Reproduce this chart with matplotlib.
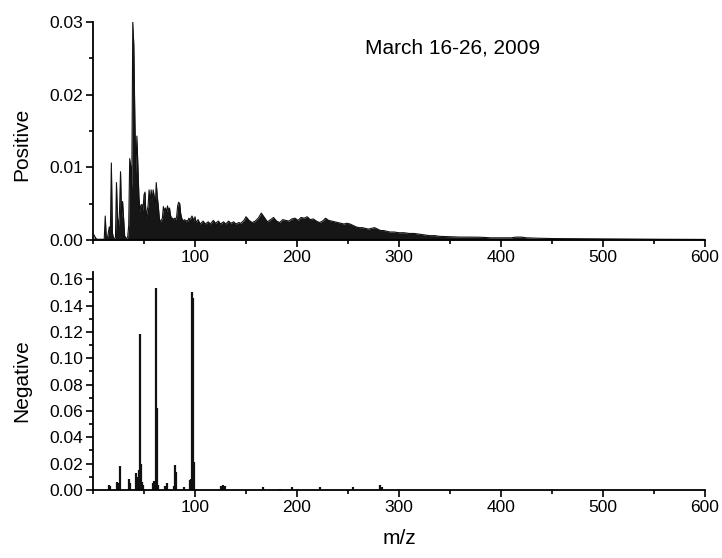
import matplotlib
matplotlib.use("Agg")
import matplotlib.pyplot as plt
from matplotlib.ticker import MultipleLocator, FixedLocator

plt.rcParams['font.family'] = ['Liberation Sans', 'DejaVu Sans']

# ---- Positive ion spectrum (m/z, intensity) ----
pos_mz = [1, 2, 3, 4, 6, 8, 10, 11, 12, 13, 14, 15, 16, 17, 18, 19, 20, 21, 22, 23, 24, 25,
          26, 27, 28, 29, 30, 31, 32, 33, 34, 35, 36, 37, 38, 39, 40, 41, 42, 43, 44, 45,
          46, 47, 48, 49, 50, 51, 52, 53, 54, 55, 56, 57, 58, 59, 60, 61, 62, 63, 64, 65,
          66, 67, 68, 69, 70, 71, 72, 73, 74, 75, 76, 77, 78, 79, 80, 81, 82, 83, 84, 85,
          86, 87, 88, 89, 90, 91, 92, 93, 94, 95, 96, 97, 98, 99, 100,
          101, 103, 105, 108, 110, 113, 115, 118, 120, 123, 125, 128, 130, 133, 135, 138,
          140, 143, 145, 148, 150, 153, 156, 159, 162, 165, 168, 171, 174, 177, 180, 183,
          186, 189, 192, 195, 198, 201, 204, 207, 210, 213, 216, 219, 222, 225, 228, 231,
          234, 237, 240, 243, 246, 249, 252, 255, 258, 261, 264, 267, 270, 273, 276, 279,
          282, 285, 288, 291, 295, 300, 305, 310, 315, 320, 325, 330, 335, 340, 350, 360,
          370, 380, 390, 400, 410, 415, 420, 425, 435, 450, 470, 500, 530, 560, 600]
pos_int = [0.0007, 0.0004, 0.0002, 0.0001, 0.0001, 0.0001, 0.0001, 0.0001, 0.0033, 0.0003,
           0.0002, 0.0010, 0.0018, 0.0008, 0.0106, 0.0010, 0.0003, 0.0002, 0.0003, 0.0079,
           0.0030, 0.0018, 0.0040, 0.0094, 0.0030, 0.0053, 0.0030, 0.0006, 0.0003, 0.0002,
           0.0004, 0.0020, 0.0112, 0.0101, 0.0070, 0.0300, 0.0268, 0.0170, 0.0090, 0.0143,
           0.0103, 0.0060, 0.0039, 0.0048, 0.0049, 0.0040, 0.0062, 0.0066, 0.0030, 0.0040,
           0.0047, 0.0069, 0.0052, 0.0069, 0.0055, 0.0069, 0.0060, 0.0045, 0.0079, 0.0060,
           0.0047, 0.0030, 0.0025, 0.0027, 0.0030, 0.0046, 0.0040, 0.0044, 0.0038, 0.0047,
           0.0040, 0.0044, 0.0034, 0.0030, 0.0030, 0.0028, 0.0030, 0.0028, 0.0032, 0.0047,
           0.0052, 0.0050, 0.0036, 0.0030, 0.0027, 0.0027, 0.0028, 0.0025, 0.0027, 0.0026,
           0.0030, 0.0028, 0.0030, 0.0033, 0.0030, 0.0026, 0.0032,
           0.0024, 0.0028, 0.0022, 0.0026, 0.0022, 0.0025, 0.0022, 0.0027, 0.0023, 0.0026,
           0.0022, 0.0025, 0.0022, 0.0026, 0.0023, 0.0025, 0.0022, 0.0024, 0.0023, 0.0027,
           0.0032, 0.0027, 0.0024, 0.0026, 0.0030, 0.0037, 0.0031, 0.0025, 0.0028, 0.0031,
           0.0026, 0.0024, 0.0028, 0.0027, 0.0026, 0.0029, 0.0030, 0.0027, 0.0031, 0.0030,
           0.0032, 0.0028, 0.0029, 0.0026, 0.0024, 0.0026, 0.0030, 0.0027, 0.0026, 0.0025,
           0.0024, 0.0023, 0.0022, 0.0023, 0.0022, 0.0020, 0.0018, 0.0017, 0.0017, 0.0016,
           0.0015, 0.0016, 0.0017, 0.0015, 0.0013, 0.0013, 0.0012, 0.0011, 0.0011, 0.0010,
           0.0010, 0.0009, 0.0009, 0.0008, 0.0007, 0.0006, 0.0006, 0.0005, 0.00045, 0.0004,
           0.0004, 0.00038, 0.0003, 0.0003, 0.0003, 0.0004, 0.0004, 0.0003, 0.00025, 0.0002,
           0.00018, 0.00015, 0.00012, 0.0001, 0.00008]

# ---- Negative ion spectrum (m/z, intensity) ----
neg_mz = [16, 17, 24, 25, 26, 35, 36, 42, 43, 45, 46, 47, 48, 49, 59, 60, 61, 62, 63, 64,
          71, 73, 79, 80, 81, 89, 95, 96, 97, 98, 99, 125, 127, 129, 167, 183, 195, 223,
          255, 281, 283]
neg_int = [0.004, 0.003, 0.006, 0.005, 0.018, 0.008, 0.005, 0.0127, 0.010, 0.015, 0.1185,
           0.020, 0.006, 0.004, 0.005, 0.007, 0.004, 0.153, 0.062, 0.004, 0.003, 0.0056,
           0.003, 0.019, 0.014, 0.002, 0.0076, 0.008, 0.150, 0.146, 0.021, 0.003, 0.004,
           0.003, 0.0025, 0.001, 0.0025, 0.002, 0.002, 0.0038, 0.0025]

x_ticks = [100, 200, 300, 400, 500, 600]
pos_yticks = [0.00, 0.01, 0.02, 0.03]
neg_yticks = [0.00, 0.02, 0.04, 0.06, 0.08, 0.10, 0.12, 0.14, 0.16]

W, H = 722, 558
fig = plt.figure(figsize=(W / 100, H / 100), dpi=100)
ax1 = fig.add_axes([93 / W, 1 - 240 / H, 612 / W, 218 / H])
ax2 = fig.add_axes([93 / W, 1 - 490 / H, 612 / W, 218 / H])

ink = '#111111'
ax1.fill_between(pos_mz, 0, pos_int, color='#161616', lw=0)
ax1.plot(pos_mz, pos_int, color=ink, lw=0.8)
ax2.vlines(neg_mz, 0, neg_int, color=ink, lw=1.6)

for ax, yt, ylim in [(ax1, pos_yticks, 0.03), (ax2, neg_yticks, 0.1655)]:
    ax.set_xlim(0, 600)
    ax.set_ylim(0, ylim)
    ax.xaxis.set_major_locator(FixedLocator(x_ticks))
    ax.xaxis.set_minor_locator(MultipleLocator(50))
    ax.set_yticks(yt)
    ax.set_yticklabels(['{:.2f}'.format(v) for v in yt])
    ax.yaxis.set_minor_locator(MultipleLocator((yt[1] - yt[0]) / 2))
    for s in ['top', 'right']:
        ax.spines[s].set_visible(False)
    for s in ['left', 'bottom']:
        ax.spines[s].set_linewidth(1.3)
    ax.tick_params(which='major', direction='out', length=5, width=1.2, labelsize=12.5, pad=2)
    ax.tick_params(which='minor', direction='out', length=3, width=1.2)

ax1.set_ylabel('Positive', fontsize=15)
ax2.set_ylabel('Negative', fontsize=15)
ax1.yaxis.set_label_coords(-62 / 612, 0.44)
ax2.yaxis.set_label_coords(-62 / 612, 0.5)
ax2.set_xlabel('m/z', fontsize=15, labelpad=10)
ax1.text(453 / W, 1 - 48 / H, 'March 16-26, 2009', transform=fig.transFigure,
         ha='center', va='center', fontsize=15)

fig.savefig('out.png', dpi=100)
